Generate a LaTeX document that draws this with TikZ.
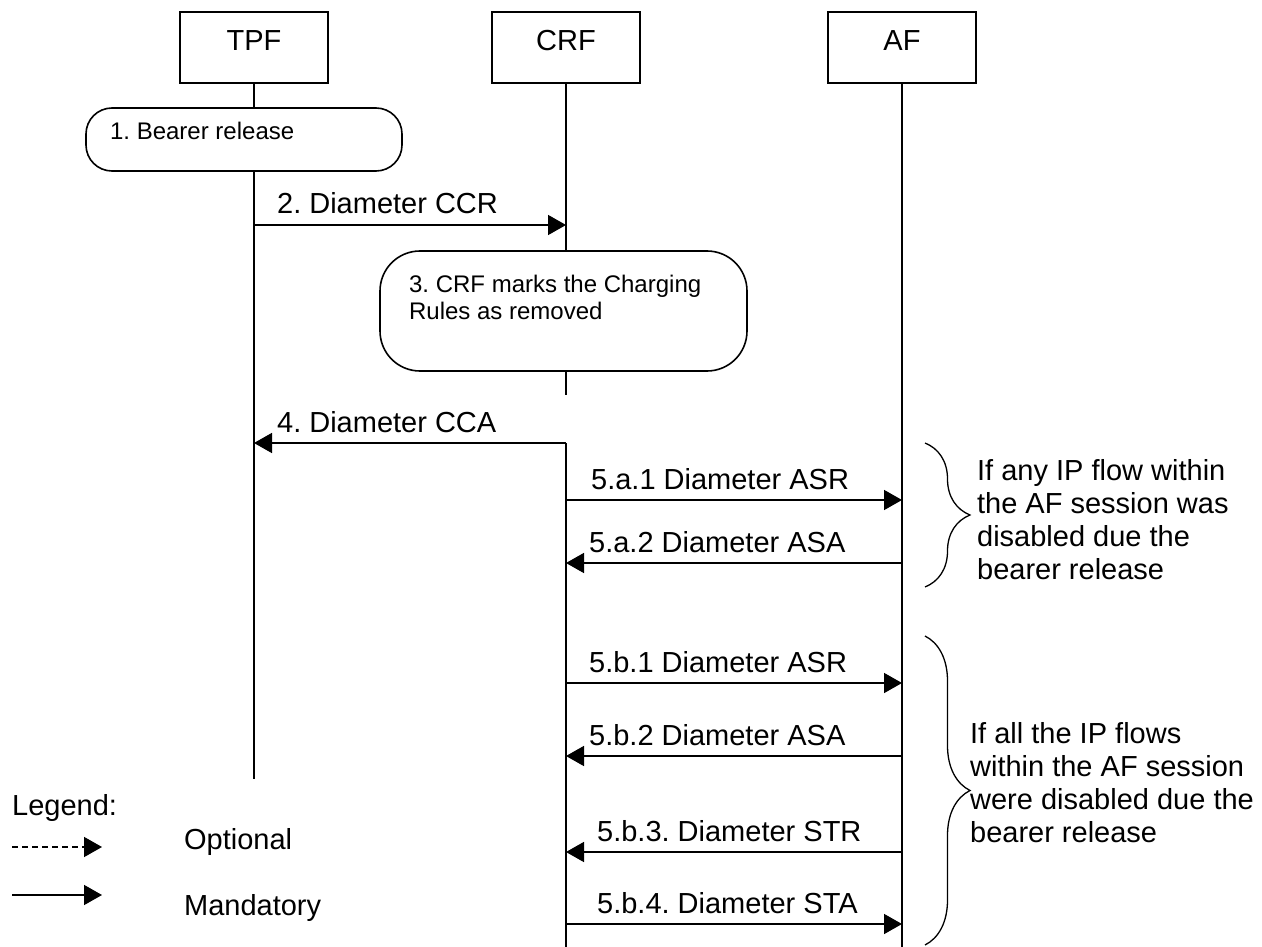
\documentclass[tikz,border=0pt]{standalone}
\usepackage{fontspec}
\setmainfont{Liberation Sans}
\usetikzlibrary{arrows.meta,decorations.pathreplacing}
\frenchspacing

\begin{document}
\begin{tikzpicture}[x=1pt,y=-1pt,line width=1.6pt,
	>={Triangle[length=18pt,width=20pt]},
	entity/.style={draw,minimum width=148pt,minimum height=71pt,text depth=14pt,
		font=\fontsize{29}{33}\selectfont},
	procbox/.style={draw,fill=white,inner sep=0pt},
	proctext/.style={anchor=west,align=left,font=\fontsize{24}{27}\selectfont},
	msg/.style={anchor=base west,font=\fontsize{29}{33}\selectfont},
	note/.style={anchor=west,align=left,font=\fontsize{29}{33}\selectfont}]
	\useasboundingbox (0,0) rectangle (1262,947);
	% entities
	\node[entity] (tpf) at (254,47.5) {TPF};
	\node[entity] (crf) at (566,47.5) {CRF};
	\node[entity] (af) at (902,47.5) {AF};
	\coordinate (tpfend) at (254,779);
	\coordinate (crfgap) at (566,395);
	\coordinate (crfon) at (566,443);
	\coordinate (crfend) at (566,947);
	\coordinate (afend) at (902,947);
	% lifelines
	\draw (tpf.south) -- (tpfend);
	\draw (crf.south) -- (crfgap) (crfon) -- (crfend);
	\draw (af.south) -- (afend);
	% local actions
	\node[procbox,rounded corners=26pt,minimum width=316pt,minimum height=63pt] (bearer) at (244,139.5) {};
	\node[proctext] (bearertxt) at (106,131) {1. Bearer release};
	\node[procbox,rounded corners=40pt,minimum width=367pt,minimum height=120pt] (mark) at (563.5,311) {};
	\node[proctext] (marktxt) at (405,297) {3. CRF marks the Charging\\Rules as removed};
	% messages
	\foreach \y/\s/\t/\l/\dx/\txt in {225/tpf/crf/tpf/19/{2. Diameter CCR},
		443/crf/tpf/tpf/19/{4. Diameter CCA},
		500/crf/af/crf/21/{5.a.1 Diameter ASR},
		563/af/crf/crf/19/{5.a.2 Diameter ASA},
		683/crf/af/crf/19/{5.b.1 Diameter ASR},
		756/af/crf/crf/19/{5.b.2 Diameter ASA},
		852/af/crf/crf/27/{5.b.3. Diameter STR},
		924/crf/af/crf/27/{5.b.4. Diameter STA}}{
		\draw[->] (\s |- 0,\y) -- (\t |- 0,\y);
		\node[msg] (m\y) at ([shift={(\dx,-11)}]\l |- 0,\y) {\txt};
	}
	% conditions
	\coordinate (br1a) at (925,443);
	\coordinate (br1b) at (925,587);
	\coordinate (br2a) at (925,636);
	\coordinate (br2b) at (925,945);
	\draw[line width=1.3pt,decorate,decoration={brace,amplitude=45pt}] (br1a) -- (br1b);
	\draw[line width=1.3pt,decorate,decoration={brace,amplitude=45pt}] (br2a) -- (br2b);
	\node[note] (cond1) at (973,520) {If any IP flow within\\the AF session was\\disabled due the\\bearer release};
	\node[note] (cond2) at (966,783) {If all the IP flows\\within the AF session\\were disabled due the\\bearer release};
	% legend
	\node[note] (legend) at (8,808) {Legend:};
	\coordinate (opta) at (12,847);
	\coordinate (optb) at (102,847);
	\coordinate (mana) at (12,895);
	\coordinate (manb) at (102,895);
	\draw[->,dash pattern=on 6pt off 4pt] (opta) -- (optb);
	\draw[->] (mana) -- (manb);
	\node[note] (optional) at (180,842) {Optional};
	\node[note] (mandatory) at (180,908) {Mandatory};
\end{tikzpicture}
\end{document}
